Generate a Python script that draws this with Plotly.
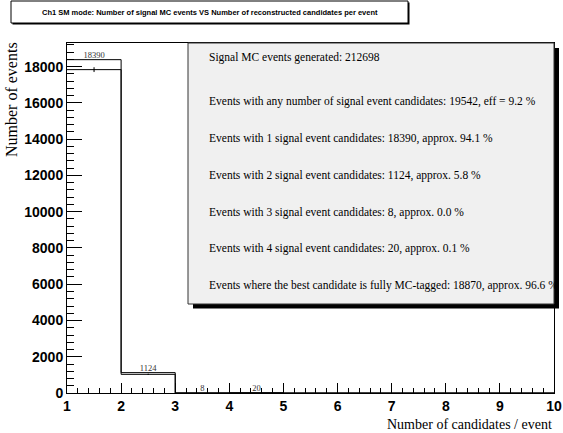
import math
import plotly.graph_objects as go

# Histogram binning: number of reconstructed candidates per event
bin_edges = [1, 2, 3, 4, 5, 6, 7, 8, 9, 10]
candidate_counts = [18390, 1124, 8, 20, 0, 0, 0, 0, 0]
tagged_counts = [17840, 1030, 0, 0, 0, 0, 0, 0, 0]

generated_events = 212698
tagged_best = 18870

x_tick_values = [1, 2, 3, 4, 5, 6, 7, 8, 9, 10]
y_tick_values = [0, 2000, 4000, 6000, 8000, 10000, 12000, 14000, 16000, 18000]

title_text = "Ch1 SM mode: Number of signal MC events VS Number of reconstructed candidates per event"
x_title = "Number of candidates / event"
y_title = "Number of events"

W, H = 563, 433
L, R, T, B = 67, 9, 43, 40
pw, ph = W - L - R, H - T - B


def px_x(px):
    return (px - L) / pw


def px_y(py):
    return (H - B - py) / ph


fig = go.Figure()

# step outline of the candidate histogram
fig.add_trace(go.Scatter(
    x=bin_edges, y=candidate_counts + [candidate_counts[-1]],
    mode="lines", line=dict(color="black", width=1, shape="hv"),
    hoverinfo="skip", showlegend=False))

# MC-tagged histogram with sqrt(N) errors
fig.add_trace(go.Scatter(
    x=bin_edges, y=tagged_counts + [tagged_counts[-1]],
    mode="lines", line=dict(color="black", width=1, shape="hv"),
    hoverinfo="skip", showlegend=False))
centers = [(a + b) / 2 for a, b in zip(bin_edges[:-1], bin_edges[1:])]
nz = [i for i, v in enumerate(tagged_counts) if v > 0]
fig.add_trace(go.Scatter(
    x=[centers[i] for i in nz], y=[tagged_counts[i] for i in nz],
    mode="markers", marker=dict(size=1, color="black"),
    error_y=dict(type="data", array=[math.sqrt(tagged_counts[i]) for i in nz],
                 color="black", thickness=1, width=0),
    hoverinfo="skip", showlegend=False))

# bin content labels
lab = [i for i, v in enumerate(candidate_counts) if v > 0]
fig.add_trace(go.Scatter(
    x=[centers[i] for i in lab], y=[candidate_counts[i] for i in lab],
    mode="text", text=[str(candidate_counts[i]) for i in lab],
    textposition="top center",
    textfont=dict(family="Liberation Serif", size=8.5, color="#333333"),
    hoverinfo="skip", showlegend=False, cliponaxis=False))

ymax = 1.05 * max(candidate_counts)
tickfont = dict(family="Liberation Sans", size=14, color="black")

fig.update_xaxes(
    range=[bin_edges[0], bin_edges[-1]], automargin=False,
    tickmode="array", tickvals=x_tick_values,
    ticktext=[f"<b>{v}</b>" for v in x_tick_values],
    ticks="inside", ticklen=10, tickwidth=1, tickcolor="black",
    minor=dict(dtick=0.2, tick0=1, ticks="inside", ticklen=5, tickcolor="black", tickwidth=1),
    showline=True, linecolor="black", linewidth=1, mirror=True,
    showgrid=False, zeroline=False, tickfont=tickfont)
fig.update_yaxes(
    range=[0, ymax], automargin=False,
    tickmode="array", tickvals=y_tick_values,
    ticktext=[f"<b>{v}</b>" for v in y_tick_values],
    ticks="inside", ticklen=15, tickwidth=1, tickcolor="black",
    minor=dict(dtick=400, tick0=0, ticks="inside", ticklen=7, tickcolor="black", tickwidth=1),
    showline=True, linecolor="black", linewidth=1, mirror=True,
    showgrid=False, zeroline=False, tickfont=tickfont)

shapes = []
# title box with shadow
shapes.append(dict(type="rect", xref="paper", yref="paper",
                   x0=px_x(12.5), x1=px_x(409.5), y0=px_y(24.5), y1=px_y(2.5),
                   fillcolor="black", line=dict(width=0), layer="above"))
shapes.append(dict(type="rect", xref="paper", yref="paper",
                   x0=px_x(11), x1=px_x(408), y0=px_y(23), y1=px_y(1),
                   fillcolor="white", line=dict(color="black", width=1), layer="above"))
# statistics box with shadow
shapes.append(dict(type="rect", xref="paper", yref="paper",
                   x0=px_x(193), x1=px_x(559), y0=px_y(308.5), y1=px_y(48),
                   fillcolor="black", line=dict(width=0), layer="above"))
shapes.append(dict(type="rect", xref="paper", yref="paper",
                   x0=px_x(188), x1=px_x(554), y0=px_y(304), y1=px_y(43),
                   fillcolor="#f0f0f0", line=dict(color="#333333", width=1), layer="above"))

any_cand = sum(candidate_counts)
lines = [f"Signal MC events generated: {generated_events}",
         f"Events with any number of signal event candidates: {any_cand}, "
         f"eff = {100 * any_cand / generated_events:.1f} %"]
for n, c in zip(bin_edges, candidate_counts):
    if c > 0:
        lines.append(f"Events with {n} signal event candidates: {c}, approx. {100 * c / any_cand:.1f} %")
lines.append(f"Events where the best candidate is fully MC-tagged: {tagged_best}, "
             f"approx. {100 * tagged_best / any_cand:.1f} %")
line_y = [57, 101.5, 138.5, 175.3, 212, 248.5, 285]

annotations = []
for t, yy in zip(lines, line_y):
    annotations.append(dict(text=t, xref="paper", yref="paper", x=px_x(207), y=px_y(yy),
                            xanchor="left", yanchor="middle", showarrow=False,
                            font=dict(family="Liberation Serif", size=11.5, color="black")))

annotations.append(dict(text=f"<b>{title_text}</b>", xref="paper", yref="paper",
                        x=px_x(209.5), y=px_y(12), xanchor="center", yanchor="middle",
                        showarrow=False,
                        font=dict(family="Liberation Sans", size=7.5, color="black")))
annotations.append(dict(text=x_title, xref="paper", yref="paper", x=px_x(554), y=px_y(424),
                        xanchor="right", yanchor="middle", showarrow=False,
                        font=dict(family="Liberation Serif", size=14, color="black")))
annotations.append(dict(text=y_title, xref="paper", yref="paper", x=px_x(12), y=px_y(100),
                        xanchor="center", yanchor="middle", textangle=-90, showarrow=False,
                        font=dict(family="Liberation Serif", size=16, color="black")))

fig.update_layout(
    width=W, height=H, margin=dict(l=L, r=R, t=T, b=B, autoexpand=False),
    paper_bgcolor="white", plot_bgcolor="white",
    shapes=shapes, annotations=annotations, showlegend=False)

fig.write_html("out.html")
